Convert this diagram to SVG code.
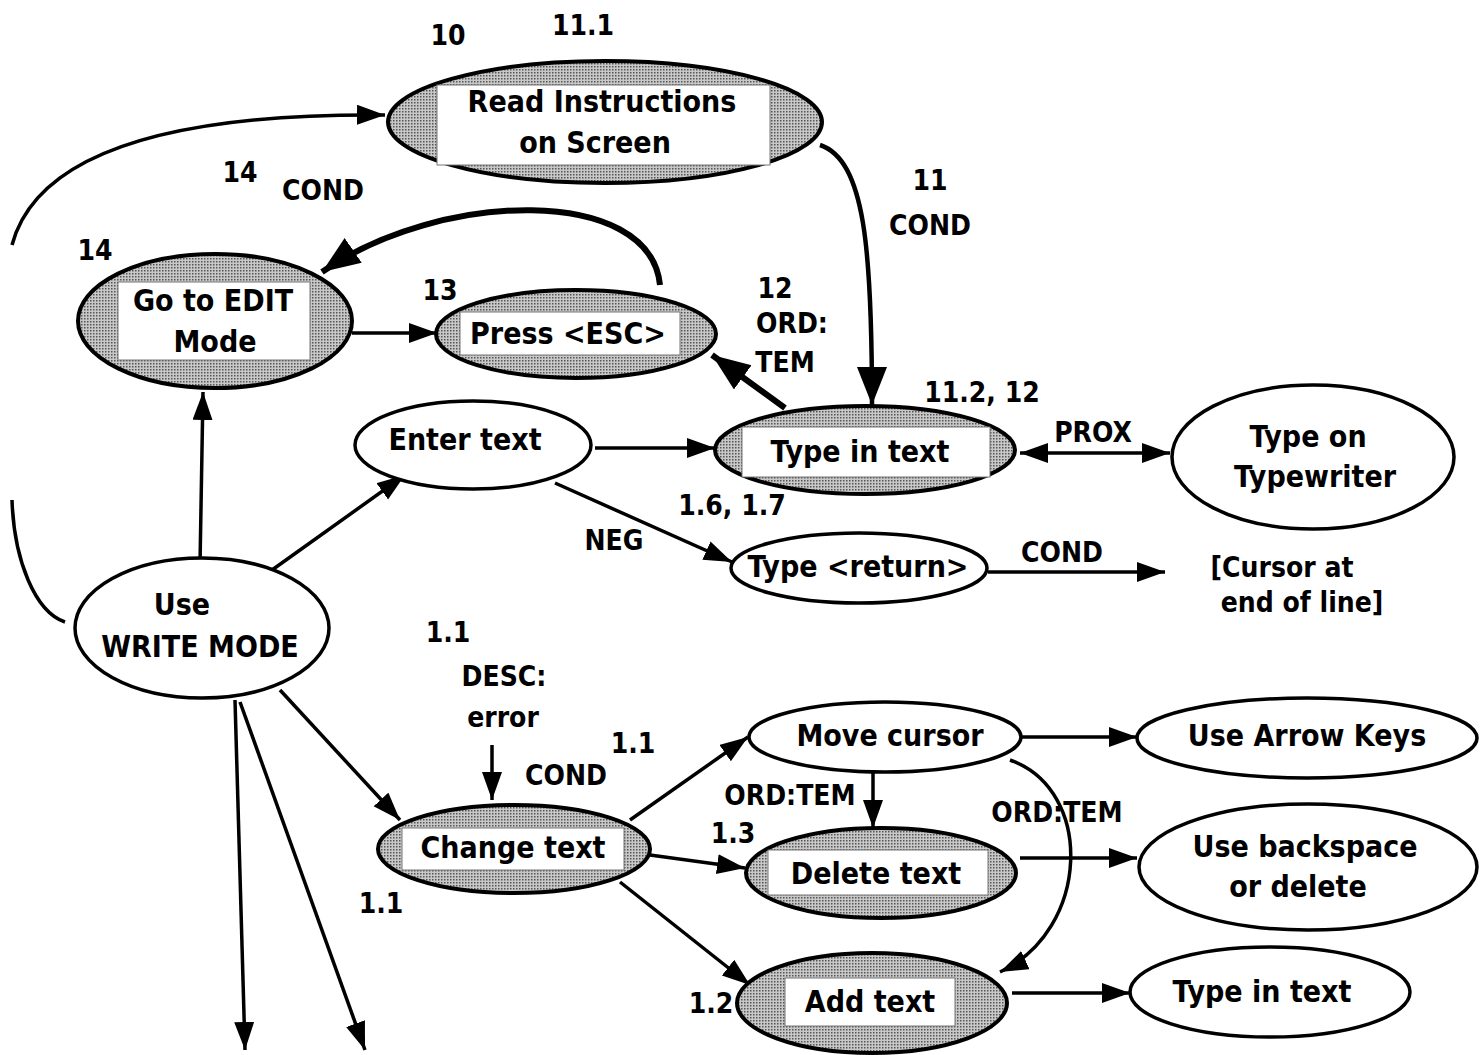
<svg xmlns="http://www.w3.org/2000/svg" width="1481" height="1055" viewBox="0 0 1481 1055">
<style>
text{font-family:"DejaVu Sans Condensed","Liberation Sans Narrow","Liberation Sans",sans-serif;font-weight:bold;font-size:30px;fill:#000;text-anchor:middle}
.lbl{font-size:28px}
.sh{fill:url(#dots);stroke:#000;stroke-width:4}
.pl{fill:#fff;stroke:#000;stroke-width:3.5}
.box{fill:#fff;stroke:#777;stroke-width:1}
.e{fill:none;stroke:#000;stroke-width:3.5}
.t{fill:none;stroke:#000;stroke-width:6}
</style>
<defs>
<pattern id="dots" width="3" height="3" patternUnits="userSpaceOnUse">
<rect width="3" height="3" fill="#c8c8c8"/>
<rect width="1.5" height="1.5" fill="#555"/>
</pattern>
<marker id="a" markerUnits="userSpaceOnUse" markerWidth="30" markerHeight="24" refX="28" refY="10" orient="auto">
<path d="M0,0 L28,10 L0,20 z" fill="#000"/>
</marker>
<marker id="as" markerUnits="userSpaceOnUse" markerWidth="30" markerHeight="24" refX="0" refY="10" orient="auto">
<path d="M28,0 L0,10 L28,20 z" fill="#000"/>
</marker>
<marker id="ab" markerUnits="userSpaceOnUse" markerWidth="40" markerHeight="34" refX="38" refY="15" orient="auto">
<path d="M0,0 L38,15 L0,30 z" fill="#000"/>
</marker>
</defs>
<rect width="1481" height="1055" fill="#fff"/>

<g id="connectors">
<path class="e" d="M12,500 C14,560 35,612 65,622"/>
<path class="e" d="M12,245 C35,160 150,113 385,115" marker-end="url(#a)"/>
<path class="e" style="stroke-width:4.5" d="M820,145 C865,160 872,250 872,405" marker-end="url(#ab)"/>
<path class="t" d="M660,285 C650,185 440,190 322,272" marker-end="url(#ab)"/>
<path class="t" d="M785,408 L712,355" marker-end="url(#ab)"/>
<path class="e" d="M352,333 L437,333" marker-end="url(#a)"/>
<path class="e" d="M200,565 L203,392" marker-end="url(#a)"/>
<path class="e" d="M265,575 L405,475" marker-end="url(#a)"/>
<path class="e" d="M595,448 L715,448" marker-end="url(#a)"/>
<path class="e" d="M1020,453 L1170,453" marker-start="url(#as)" marker-end="url(#a)"/>
<path class="e" d="M555,483 L732,562" marker-end="url(#a)"/>
<path class="e" d="M988,572 L1165,572" marker-end="url(#a)"/>
<path class="e" d="M280,690 L400,820" marker-end="url(#a)"/>
<path class="e" d="M235,700 L245,1050" marker-end="url(#a)"/>
<path class="e" d="M240,702 L365,1050" marker-end="url(#a)"/>
<path class="e" d="M492,745 L492,800" marker-end="url(#a)"/>
<path class="e" d="M630,820 L748,737" marker-end="url(#a)"/>
<path class="e" d="M650,855 L745,868" marker-end="url(#a)"/>
<path class="e" d="M620,882 L750,985" marker-end="url(#a)"/>
<path class="e" d="M873,770 L873,828" marker-end="url(#a)"/>
<path class="e" d="M1010,760 C1095,790 1090,930 1000,972" marker-end="url(#a)"/>
<path class="e" d="M1022,737 L1137,737" marker-end="url(#a)"/>
<path class="e" d="M1020,858 L1137,858" marker-end="url(#a)"/>
<path class="e" d="M1012,993 L1130,993" marker-end="url(#a)"/>
</g>

<g id="labels">
<text class="lbl" x="448" y="45">10</text>
<text class="lbl" x="583" y="35">11.1</text>
<text class="lbl" x="240" y="182">14</text>
<text class="lbl" x="323" y="200">COND</text>
<text class="lbl" x="930" y="190">11</text>
<text class="lbl" x="930" y="235">COND</text>
<text class="lbl" x="95" y="260">14</text>
<text class="lbl" x="440" y="300">13</text>
<text class="lbl" x="775" y="298">12</text>
<text class="lbl" x="792" y="333">ORD:</text>
<text class="lbl" x="785" y="372">TEM</text>
<text class="lbl" x="982" y="402">11.2, 12</text>
<text class="lbl" x="1093" y="442">PROX</text>
<text class="lbl" x="732" y="515">1.6, 1.7</text>
<text class="lbl" x="614" y="550">NEG</text>
<text class="lbl" x="1062" y="562">COND</text>
<text class="lbl" x="1282" y="577">[Cursor at</text>
<text class="lbl" x="1302" y="612">end of line]</text>
<text class="lbl" x="448" y="642">1.1</text>
<text class="lbl" x="504" y="686">DESC:</text>
<text class="lbl" x="503" y="727">error</text>
<text class="lbl" x="566" y="785">COND</text>
<text class="lbl" x="633" y="753">1.1</text>
<text class="lbl" x="790" y="805">ORD:TEM</text>
<text class="lbl" x="1057" y="822">ORD:TEM</text>
<text class="lbl" x="733" y="843">1.3</text>
<text class="lbl" x="381" y="913">1.1</text>
<text class="lbl" x="711" y="1013">1.2</text>
</g>

<g id="read-instructions">
<ellipse class="sh" cx="605" cy="122" rx="217" ry="61"/>
<rect class="box" x="437" y="85" width="333" height="80"/>
<text x="602" y="112">Read Instructions</text>
<text x="595" y="153">on Screen</text>
</g>
<g id="go-to-edit">
<ellipse class="sh" cx="215" cy="321" rx="137" ry="67"/>
<rect class="box" x="118" y="282" width="192" height="78"/>
<text x="213" y="311">Go to EDIT</text>
<text x="215" y="352">Mode</text>
</g>
<g id="press-esc">
<ellipse class="sh" cx="576" cy="334" rx="140" ry="44"/>
<rect class="box" x="460" y="312" width="220" height="43"/>
<text x="568" y="344">Press &lt;ESC&gt;</text>
</g>
<g id="enter-text">
<ellipse class="pl" cx="473" cy="445" rx="118" ry="44"/>
<text x="465" y="450">Enter text</text>
</g>
<g id="type-in-text">
<ellipse class="sh" cx="865" cy="450" rx="150" ry="44"/>
<rect class="box" x="742" y="427" width="248" height="50"/>
<text x="860" y="462">Type in text</text>
</g>
<g id="type-on-typewriter">
<ellipse class="pl" cx="1313" cy="457" rx="141" ry="72"/>
<text x="1308" y="447">Type on</text>
<text x="1315" y="487">Typewriter</text>
</g>
<g id="type-return">
<ellipse class="pl" cx="859" cy="568" rx="128" ry="35"/>
<text x="858" y="577">Type &lt;return&gt;</text>
</g>
<g id="use-write-mode">
<ellipse class="pl" cx="202" cy="628" rx="127" ry="70"/>
<text x="182" y="615">Use</text>
<text x="200" y="657">WRITE MODE</text>
</g>
<g id="change-text">
<ellipse class="sh" cx="514" cy="849" rx="136" ry="44"/>
<rect class="box" x="402" y="828" width="222" height="42"/>
<text x="513" y="858">Change text</text>
</g>
<g id="move-cursor">
<ellipse class="pl" cx="885" cy="737" rx="136" ry="35"/>
<text x="890" y="746">Move cursor</text>
</g>
<g id="use-arrow-keys">
<ellipse class="pl" cx="1307" cy="738" rx="170" ry="40"/>
<text x="1307" y="746">Use Arrow Keys</text>
</g>
<g id="delete-text">
<ellipse class="sh" cx="881" cy="873" rx="135" ry="45"/>
<rect class="box" x="768" y="850" width="220" height="45"/>
<text x="876" y="884">Delete text</text>
</g>
<g id="use-backspace">
<ellipse class="pl" cx="1308" cy="867" rx="169" ry="63"/>
<text x="1305" y="857">Use backspace</text>
<text x="1298" y="897">or delete</text>
</g>
<g id="add-text">
<ellipse class="sh" cx="872" cy="1003" rx="135" ry="50"/>
<rect class="box" x="785" y="978" width="170" height="48"/>
<text x="870" y="1012">Add text</text>
</g>
<g id="type-in-text-2">
<ellipse class="pl" cx="1270" cy="992" rx="140" ry="45"/>
<text x="1262" y="1002">Type in text</text>
</g>
</svg>
